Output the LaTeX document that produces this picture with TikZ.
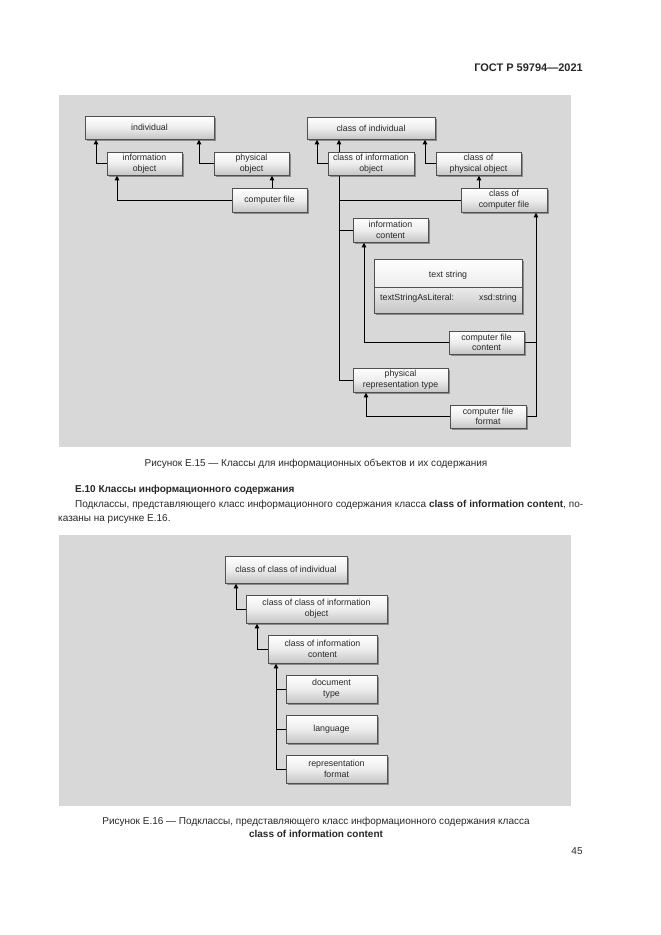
\documentclass[tikz,border=0pt]{standalone}
\usepackage{fontspec}
\setmainfont{Liberation Sans}
\usetikzlibrary{arrows.meta,shadows}
\pgfdeclarelayer{background}
\pgfdeclarelayer{lines}
\pgfsetlayers{background,lines,main}
\newcommand{\boxfont}{\fontsize{8.8}{10.6}\selectfont}
\newcommand{\capfont}{\fontsize{10}{12}\selectfont}
\definecolor{panel}{RGB}{216,216,216}
\definecolor{ink}{RGB}{40,40,40}
\definecolor{boxedge}{RGB}{80,80,80}
\tikzset{
  box/.style={draw=boxedge, line width=0.9pt, top color=white, bottom color=gray!45, middle color=gray!14,
    inner sep=1pt, align=center, font=\boxfont, text=ink,
    drop shadow={shadow xshift=1.5pt, shadow yshift=-1.5pt, opacity=0.5, fill=black!75}},
  arr/.style={-{Triangle[width=4.5pt,length=5pt]}, line width=1pt, draw=black},
  link/.style={line width=1pt, draw=black},
  captxt/.style={font=\capfont, text=ink, inner sep=0pt},
}
\begin{document}
\begin{tikzpicture}[x=1pt,y=-1pt]
\useasboundingbox (0,0) rectangle (661,935);
\begin{pgfonlayer}{background}
\fill[white] (0,0) rectangle (661,935);
\fill[panel] (59,95) rectangle (571,447);
\fill[panel] (59,535) rectangle (571,806);
\end{pgfonlayer}

% header
\node[font=\fontsize{11}{13}\selectfont\bfseries, text=ink, anchor=east, inner sep=0pt] (hdr) at (583,68) {ГОСТ Р 59794—2021};

% ---- panel 1, left ----
\node[box, minimum width=129, minimum height=23] (indiv) at (149.5,127.5) {individual};
\node[box, minimum width=75, minimum height=23] (infoobj) at (144.5,163.5) {information\\object};
\node[box, minimum width=75, minimum height=23] (physobj) at (251.5,163.5) {physical\\object};
\node[box, minimum width=75, minimum height=24] (compfile) at (269.5,200) {computer file};

% ---- panel 1, right ----
\node[box, minimum width=128, minimum height=22] (coi) at (371,128) {class of individual};
\node[box, minimum width=86, minimum height=23] (coio) at (371,163.5) {class of information\\object};
\node[box, minimum width=85, minimum height=23] (copo) at (478.5,163.5) {class of\\physical object};
\node[box, minimum width=86, minimum height=24] (cocf) at (504,200) {class of\\computer file};
\node[box, minimum width=75, minimum height=24] (ic) at (390.5,230) {information\\content};
\node[box, minimum width=148, minimum height=54] (ts) at (448,286) {};
\draw[boxedge, line width=0.9pt] (ts.west |- 0,287) -- (ts.east |- 0,287);
\node[font=\boxfont, text=ink, inner sep=0pt] (tsname) at (448,275) {text string};
\node[font=\boxfont, text=ink, inner sep=0pt, anchor=west] (tsattr) at (380,298) {textStringAsLiteral:};
\node[font=\boxfont, text=ink, inner sep=0pt, anchor=east] (tstype) at (517,298) {xsd:string};
\node[box, minimum width=75, minimum height=23] (cfc) at (486.5,342.5) {computer file\\content};
\node[box, minimum width=95, minimum height=24] (prt) at (400.5,380) {physical\\representation type};
\node[box, minimum width=76, minimum height=23] (cff) at (488,416.5) {computer file\\format};

\begin{pgfonlayer}{lines}
\draw[arr] (infoobj.west) -| (96,0 |- indiv.south);
\draw[arr] (physobj.west) -| (199,0 |- indiv.south);
\draw[arr] (compfile.west) -| (117,0 |- infoobj.south);
\draw[arr] (272,0 |- compfile.north) -- (272,0 |- physobj.south);
\draw[arr] (coio.west) -| (317,0 |- coi.south);
\draw[arr] (prt.west) -| (339,0 |- coi.south);
\draw[link] (ic.west) -- (339,0 |- ic.west);
\draw[link] (cocf.west) -- (339,0 |- cocf.west);
\draw[arr] (copo.west) -| (425,0 |- coi.south);
\draw[arr] (479,0 |- cocf.north) -- (479,0 |- copo.south);
\draw[arr] (cfc.west) -| (364,0 |- ic.south);
\draw[arr] (cff.west) -| (366,0 |- prt.south);
\draw[arr] (cff.east) -| (536,0 |- cocf.south);
\draw[link] (cfc.east) -- (536,0 |- cfc.east);
\end{pgfonlayer}

% captions and text
\node[captxt] (cap1) at (316,464) {Рисунок Е.15 — Классы для информационных объектов и их содержания};
\node[captxt, font=\capfont\bfseries, anchor=west] (sec) at (75,490) {Е.10 Классы информационного содержания};
\node[captxt, anchor=west] (par1) at (75,505) {\makebox[508pt][s]{Подклассы, представляющего класс информационного содержания класса \textbf{class of information content}, по-}};
\node[captxt, anchor=west] (par2) at (58,519) {казаны на рисунке Е.16.};

% ---- panel 2 ----
\node[box, minimum width=122, minimum height=27] (ccoi) at (286,569.5) {class of class of individual};
\node[box, minimum width=141, minimum height=28] (ccoio) at (316.5,609) {class of class of information\\object};
\node[box, minimum width=109, minimum height=28] (coic) at (322.5,649) {class of information\\content};
\node[box, minimum width=91, minimum height=28] (dt) at (331.5,689) {document\\type};
\node[box, minimum width=91, minimum height=28] (lang) at (331.5,729) {language};
\node[box, minimum width=101, minimum height=28] (rf) at (336.5,769) {representation\\format};

\begin{pgfonlayer}{lines}
\draw[arr] (ccoio.west) -| (236,0 |- ccoi.south);
\draw[arr] (coic.west) -| (257,0 |- ccoio.south);
\draw[arr] (rf.west) -| (276,0 |- coic.south);
\draw[link] (dt.west) -- (276,0 |- dt.west);
\draw[link] (lang.west) -- (276,0 |- lang.west);
\end{pgfonlayer}

\node[captxt] (cap2a) at (316,822) {Рисунок Е.16 — Подклассы, представляющего класс информационного содержания класса};
\node[captxt, font=\capfont\bfseries] (cap2b) at (316,834) {class of information content};
\node[captxt] (pg) at (577,851) {45};
\end{tikzpicture}
\end{document}
